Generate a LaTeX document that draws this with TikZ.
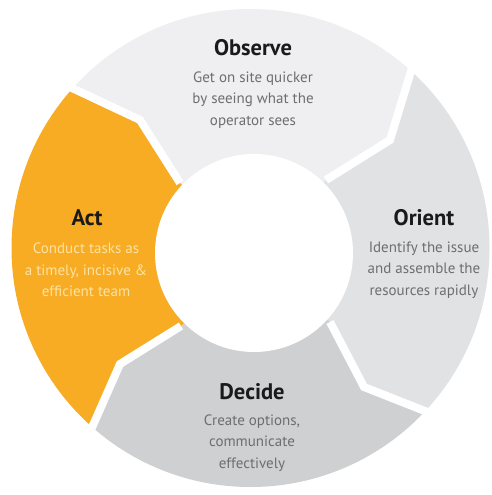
\documentclass[tikz,border=0pt]{standalone}
\usepackage{fontspec}
\setmainfont{PT Sans}
\definecolor{obsfill}{RGB}{239,239,241}
\definecolor{orifill}{RGB}{225,226,228}
\definecolor{decfill}{RGB}{207,208,210}
\definecolor{actfill}{RGB}{247,172,36}
\definecolor{titlecol}{RGB}{26,26,26}
\definecolor{bodycol}{RGB}{110,110,112}
\definecolor{actbody}{RGB}{252,226,164}
\tikzset{
  title/.style={font=\fontsize{22.5}{26}\selectfont\bfseries, text=titlecol, inner sep=0pt},
  body/.style={font=\fontsize{15}{21.5}\selectfont, text=bodycol, align=center, inner sep=0pt},
  gap/.style={draw=white, line width=8pt}
}
\begin{document}
\begin{tikzpicture}[x=1pt,y=-1pt]
\useasboundingbox (0,0) rectangle (492,495);
\fill[white] (0,0) rectangle (492,495);
\coordinate (O) at (250.5,248);
\coordinate (I) at (254,253);
% boundaries: ext, kink, inner
\coordinate (aoE) at (4,56);    \coordinate (aoK) at (140,120); \coordinate (aoI) at (180,183);
\coordinate (orE) at (434,-4);  \coordinate (orK) at (390,140); \coordinate (orI) at (326,180);
\coordinate (rdE) at (506,443); \coordinate (rdK) at (364,387); \coordinate (rdI) at (330,322);
\coordinate (daE) at (60,500);  \coordinate (daK) at (120,364); \coordinate (daI) at (181,326);
\coordinate (fTL) at (-20,-20); \coordinate (fTR) at (520,-20);
\coordinate (fBR) at (520,520); \coordinate (fBL) at (-20,520);
\begin{scope}
\clip (O) circle[radius=239pt];
\fill[obsfill] (I) -- (aoI) -- (aoK) -- (aoE) -- (fTL) -- (fTR) -- (orE) -- (orK) -- (orI) -- cycle;
\fill[orifill] (I) -- (orI) -- (orK) -- (orE) -- (fTR) -- (fBR) -- (rdE) -- (rdK) -- (rdI) -- cycle;
\fill[decfill] (I) -- (rdI) -- (rdK) -- (rdE) -- (fBR) -- (fBL) -- (daE) -- (daK) -- (daI) -- cycle;
\fill[actfill] (I) -- (daI) -- (daK) -- (daE) -- (fBL) -- (fTL) -- (aoE) -- (aoK) -- (aoI) -- cycle;
\end{scope}
\draw[gap] (aoE) -- (aoK) -- (aoI);
\draw[gap] (orE) -- (orK) -- (orI);
\draw[gap] (rdE) -- (rdK) -- (rdI);
\draw[gap] (daE) -- (daK) -- (daI);
\fill[white] (I) circle[radius=99pt];
% texts
\node[title] (obsT) at (253,48) {Observe};
\node[body] (obsB) at (253,100) {Get on site quicker\\by seeing what the\\operator sees};
\node[title] (oriT) at (424,218) {Orient};
\node[body] (oriB) at (424,270) {Identify the issue\\and assemble the\\resources rapidly};
\node[title] (decT) at (252,392) {Decide};
\node[body] (decB) at (252,443) {Create options,\\communicate\\effectively};
\node[title] (actT) at (87,218) {Act};
\node[body, text=actbody] (actB) at (86,270) {Conduct tasks as\\a timely, incisive \&\\efficient team};
\end{tikzpicture}
\end{document}
